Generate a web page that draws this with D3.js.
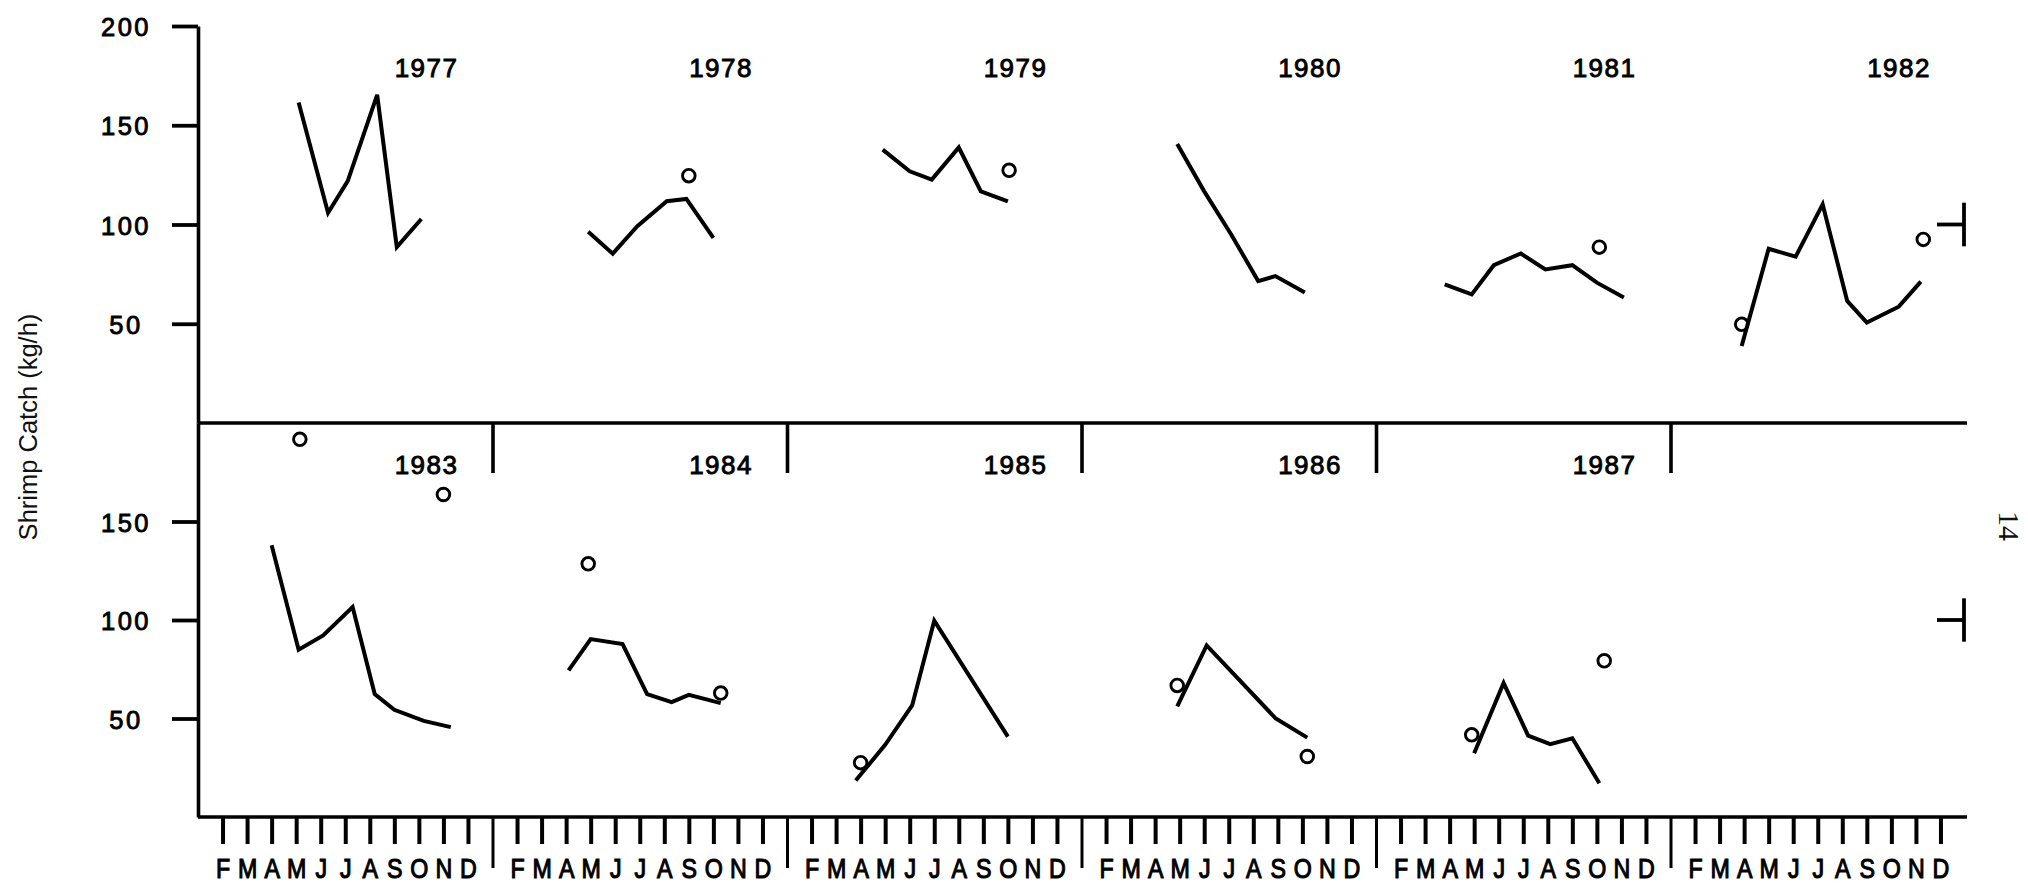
<!DOCTYPE html>
<html>
<head>
<meta charset="utf-8">
<script src="https://cdn.jsdelivr.net/npm/d3@7"></script>
<style>
html, body { margin: 0; padding: 0; background: #ffffff; }
svg { display: block; }
</style>
</head>
<body>
<svg id="chart" width="2028" height="891"></svg>
<script>
// ---------------- data ----------------
const years = [1977, 1978, 1979, 1980, 1981, 1982, 1983, 1984, 1985, 1986, 1987];
const monthLabels = ["F", "M", "A", "M", "J", "J", "A", "S", "O", "N", "D"];
const yTickValuesTop = [50, 100, 150, 200];
const yTickValuesBottom = [50, 100, 150];
const yAxisTitle = "Shrimp Catch (kg/h)";
const pageNumber = "14";
const yearsPerRow = 6;

// month position of each line vertex (1 = January, 12 = December)
const lineMonths = [
  [5.1, 6.3, 7.1, 8.3, 9.1, 10.1],
  [4.9, 5.9, 6.9, 8.1, 8.9, 10.0],
  [4.9, 6.0, 6.9, 8.0, 8.9, 10.0],
  [4.9, 6.0, 7.1, 8.2, 8.9, 10.1],
  [3.8, 4.9, 5.8, 6.9, 7.9, 9.0, 10.0, 11.1],
  [3.9, 5.0, 6.1, 7.2, 8.2, 9.0, 10.3, 11.2],
  [4.0, 5.1, 6.1, 7.3, 8.2, 9.0, 10.2, 11.3],
  [4.1, 5.0, 6.3, 7.3, 8.3, 9.0, 10.3],
  [3.8, 5.0, 6.1, 7.0, 10.0],
  [4.9, 6.1, 8.9, 10.2],
  [5.0, 6.2, 7.2, 8.1, 9.0, 10.1]
];
// shrimp catch (kg/h) at each line vertex
const lineValues = [
  [161.5, 105.9, 121.9, 165.3, 88.6, 102.8],
  [96.3, 85.3, 99.1, 111.7, 112.9, 93.3],
  [137.7, 126.8, 122.6, 138.8, 116.7, 111.6],
  [140.6, 116.7, 95.0, 71.5, 74.0, 65.7],
  [69.8, 64.8, 79.5, 85.4, 77.4, 79.5, 70.7, 63.2],
  [38.8, 87.8, 83.8, 110.1, 61.5, 50.6, 58.6, 71.2],
  [137.9, 84.9, 92.2, 106.6, 62.4, 54.4, 48.8, 45.6],
  [74.4, 90.3, 87.8, 62.4, 58.3, 62.0, 57.8],
  [18.5, 36.6, 56.6, 99.6, 40.8],
  [56.1, 87.1, 50.2, 40.3],
  [32.4, 68.0, 41.3, 37.0, 40.0, 17.1]
];
// open circles
const circleMonths = [
  [],
  [9.0],
  [10.05],
  [],
  [10.1],
  [3.9, 11.3],
  [5.15, 11.0],
  [4.9, 10.3],
  [4.0],
  [4.9, 10.2],
  [4.9, 10.3]
];
const circleValues = [
  [],
  [124.6],
  [127.3],
  [],
  [88.6],
  [49.7, 92.5],
  [191.7, 163.7],
  [128.5, 62.9],
  [27.6],
  [66.8, 30.7],
  [41.7, 79.3]
];
// right-hand reference mark
const refMarkValue = 100;
const refMarkSpan = [89, 111];

// ---------------- layout ----------------
const svg = d3.select("#chart");
const left = 198, right = 1965, lineEnd = 1967;
const x = d3.scaleLinear().domain([0, 12 * yearsPerRow]).range([left, right]);
const yScales = [
  d3.scaleLinear().domain([0, 200]).range([423, 26]),
  d3.scaleLinear().domain([0, 200]).range([817, 423])
];
const numFont = "'Liberation Sans', Arial, Helvetica, sans-serif";
const ink = "#000";

function styleNumText(sel, size, spacing, weight) {
  sel.attr("font-family", numFont)
     .attr("font-size", size)
     .attr("letter-spacing", spacing)
     .attr("fill", ink)
     .attr("stroke", ink)
     .attr("stroke-width", weight);
}

// ---------------- axes ----------------
const yAxisTop = d3.axisLeft(yScales[0]).tickValues(yTickValuesTop).tickSize(26).tickSizeOuter(0);
const yAxisBot = d3.axisLeft(yScales[1]).tickValues(yTickValuesBottom).tickSize(26).tickSizeOuter(0);
[yAxisTop, yAxisBot].forEach(ax => {
  const g = svg.append("g").attr("transform", `translate(${left},0)`).call(ax);
  g.select(".domain").attr("stroke", ink).attr("stroke-width", 3.6);
  g.selectAll(".tick line").attr("stroke", ink).attr("stroke-width", 3.8);
  const t = g.selectAll(".tick text")
    .attr("x", -72).attr("dy", null).attr("y", 9.5)
    .attr("text-anchor", "middle");
  styleNumText(t, 25.5, 2.5, 0.9);
});

// horizontal frame lines
[yScales[0](0), yScales[1](0)].forEach(yy => {
  svg.append("line")
    .attr("x1", left).attr("x2", lineEnd)
    .attr("y1", yy).attr("y2", yy)
    .attr("stroke", ink).attr("stroke-width", 3.6);
});

// month ticks + labels on the bottom axis
const monthTickVals = [];
for (let k = 0; k < yearsPerRow; k++) for (let m = 1; m <= 11; m++) monthTickVals.push(12 * k + m);
const monthAxis = d3.axisBottom(x).tickValues(monthTickVals).tickSize(27)
  .tickFormat(d => monthLabels[(d % 12) - 1]);
const gm = svg.append("g").attr("transform", `translate(0,${yScales[1](0)})`).call(monthAxis);
gm.select(".domain").remove();
gm.selectAll(".tick line").attr("stroke", ink).attr("stroke-width", 4);
const mt = gm.selectAll(".tick text").attr("y", 61).attr("dy", null)
  .attr("transform", "scale(0.86,1)");
styleNumText(mt, 27, 0, 1.1);

// year dividers (January) below the bottom axis
const dividerVals = d3.range(1, yearsPerRow).map(k => 12 * k);
const divAxisBot = d3.axisBottom(x).tickValues(dividerVals).tickSize(51).tickFormat("");
const gdb = svg.append("g").attr("transform", `translate(0,${yScales[1](0)})`).call(divAxisBot);
gdb.select(".domain").remove();
gdb.selectAll(".tick line").attr("stroke", ink).attr("stroke-width", 3);

// year dividers hanging from the middle line into the bottom panel
const divAxisMid = d3.axisBottom(x).tickValues(dividerVals).tickSize(50).tickFormat("");
const gdm = svg.append("g").attr("transform", `translate(0,${yScales[1](200)})`).call(divAxisMid);
gdm.select(".domain").remove();
gdm.selectAll(".tick line").attr("stroke", ink).attr("stroke-width", 3.6);

// right-hand reference marks
yScales.forEach(ys => {
  svg.append("line")
    .attr("x1", right - 1).attr("x2", right - 1)
    .attr("y1", ys(refMarkSpan[0])).attr("y2", ys(refMarkSpan[1]))
    .attr("stroke", ink).attr("stroke-width", 3.8);
  svg.append("line")
    .attr("x1", right - 28).attr("x2", right - 1)
    .attr("y1", ys(refMarkValue)).attr("y2", ys(refMarkValue))
    .attr("stroke", ink).attr("stroke-width", 3.8);
});

// ---------------- series ----------------
years.forEach((yr, i) => {
  const row = Math.floor(i / yearsPerRow);
  const k = i % yearsPerRow;
  const ys = yScales[row];
  const pts = lineMonths[i].map((m, j) => ({ m, v: lineValues[i][j] }));
  const line = d3.line().x(d => x(12 * k + d.m - 1)).y(d => ys(d.v));
  svg.append("path")
    .datum(pts)
    .attr("d", line)
    .attr("fill", "none")
    .attr("stroke", ink)
    .attr("stroke-width", 4)
    .attr("stroke-linejoin", "miter")
    .attr("stroke-linecap", "butt");

  const cpts = circleMonths[i].map((m, j) => ({ m, v: circleValues[i][j] }));
  svg.append("g").selectAll("circle")
    .data(cpts).join("circle")
    .attr("cx", d => x(12 * k + d.m - 1))
    .attr("cy", d => ys(d.v))
    .attr("r", 6.3)
    .attr("fill", "none")
    .attr("stroke", ink)
    .attr("stroke-width", 2.9);

  const lab = svg.append("text")
    .attr("x", x(12 * k + 12) - 34)
    .attr("y", ys(200) + 51)
    .attr("text-anchor", "end")
    .text(yr);
  styleNumText(lab, 26, 1.5, 0.9);
});

// ---------------- titles ----------------
svg.append("text")
  .attr("transform", "translate(37,427) rotate(-90)")
  .attr("text-anchor", "middle")
  .attr("font-family", "'Liberation Sans', Arial, Helvetica, sans-serif")
  .attr("font-size", 25.5)
  .attr("fill", "#111")
  .text(yAxisTitle);

svg.append("text")
  .attr("transform", "translate(1999,526) rotate(90)")
  .attr("text-anchor", "middle")
  .attr("font-family", "'Liberation Serif', 'Times New Roman', serif")
  .attr("font-size", 30)
  .attr("fill", "#111")
  .text(pageNumber);
</script>
</body>
</html>
